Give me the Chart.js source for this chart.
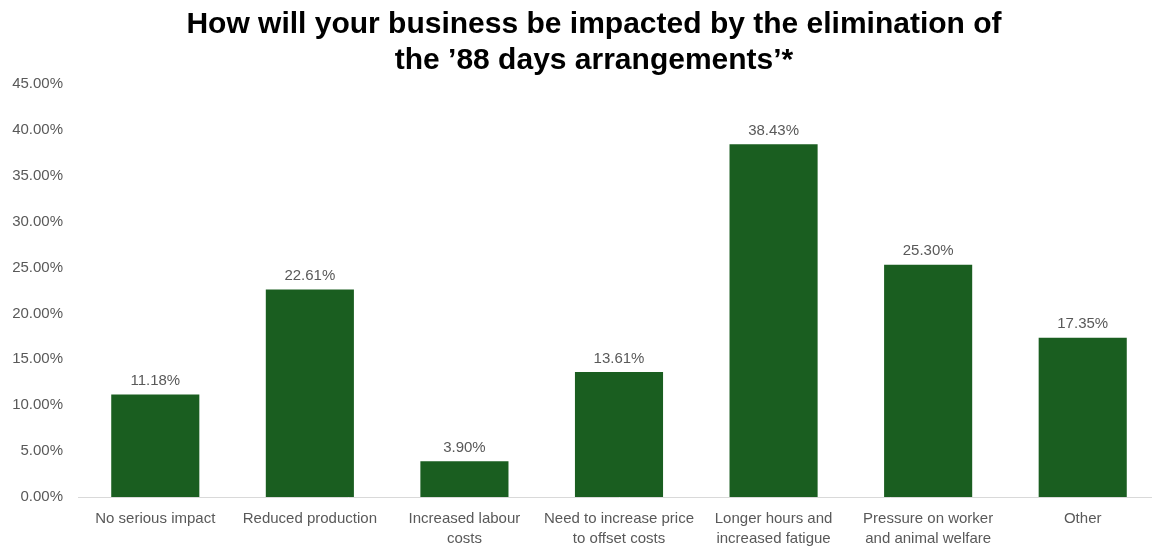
<!DOCTYPE html>
<html>
<head>
<meta charset="utf-8">
<script src="https://cdn.jsdelivr.net/npm/chart.js@4"></script>
<style>
  html, body { margin: 0; padding: 0; background: #fff; overflow: hidden; }
  #wrap { width: 1160px; height: 547px; }
</style>
</head>
<body>
<div id="wrap"><canvas id="chart" width="1160" height="547"></canvas></div>
<script>
const categories = [
  "No serious impact",
  "Reduced production",
  ["Increased labour", "costs"],
  ["Need to increase price", "to offset costs"],
  ["Longer hours and", "increased fatigue"],
  ["Pressure on worker", "and animal welfare"],
  "Other",
];
const values = [11.18, 22.61, 3.9, 13.61, 38.43, 25.3, 17.35];
const yTicks = [0, 5, 10, 15, 20, 25, 30, 35, 40, 45];
const titleLines = [
  "How will your business be impacted by the elimination of",
  "the \u201988 days arrangements\u2019*",
];

const FONT = "'Liberation Sans', Arial, sans-serif";

// title drawn centred a little left of the plot, like the original
const chartTitle = {
  id: "chartTitle",
  afterDraw(chart) {
    const ctx = chart.ctx;
    ctx.save();
    ctx.font = "bold 30px " + FONT;
    ctx.fillStyle = "#000";
    ctx.textAlign = "center";
    ctx.textBaseline = "middle";
    titleLines.forEach((line, i) => {
      ctx.fillText(line, 594, 25 + i * 36);
    });
    ctx.restore();
  },
};

const barLabels = {
  id: "barLabels",
  afterDatasetsDraw(chart) {
    const ctx = chart.ctx;
    const meta = chart.getDatasetMeta(0);
    ctx.save();
    ctx.font = "15px " + FONT;
    ctx.fillStyle = "#595959";
    ctx.textAlign = "center";
    ctx.textBaseline = "bottom";
    meta.data.forEach((bar, i) => {
      ctx.fillText(values[i].toFixed(2) + "%", bar.x, bar.y - 6);
    });
    ctx.restore();
  },
};

new Chart(document.getElementById("chart"), {
  type: "bar",
  data: {
    labels: categories,
    datasets: [
      {
        data: values,
        backgroundColor: "#1a5e20",
        barPercentage: 0.57,
        categoryPercentage: 1,
      },
    ],
  },
  options: {
    responsive: false,
    animation: false,
    layout: { padding: { left: 0, right: 0, top: 84, bottom: 0 } },
    plugins: {
      legend: { display: false },
      tooltip: { enabled: false },
      title: { display: false },
    },
    scales: {
      x: {
        grid: { display: false, drawTicks: false },
        border: { display: true, color: "#d9d9d9", width: 1 },
        ticks: {
          color: "#595959",
          font: { family: FONT, size: 15, lineHeight: 1.33 },
          maxRotation: 0,
          autoSkip: false,
          padding: 12,
        },
        afterFit(scale) { scale.height = 50; },
      },
      y: {
        min: 0,
        max: 45,
        grid: { display: false, drawTicks: false },
        border: { display: false },
        afterBuildTicks(scale) { scale.ticks = yTicks.map((v) => ({ value: v })); },
        ticks: {
          color: "#595959",
          font: { family: FONT, size: 15 },
          padding: 15,
          callback: (v) => v.toFixed(2) + "%",
        },
        afterFit(scale) { scale.width = 78; },
      },
    },
  },
  plugins: [barLabels, chartTitle],
});
</script>
</body>
</html>
